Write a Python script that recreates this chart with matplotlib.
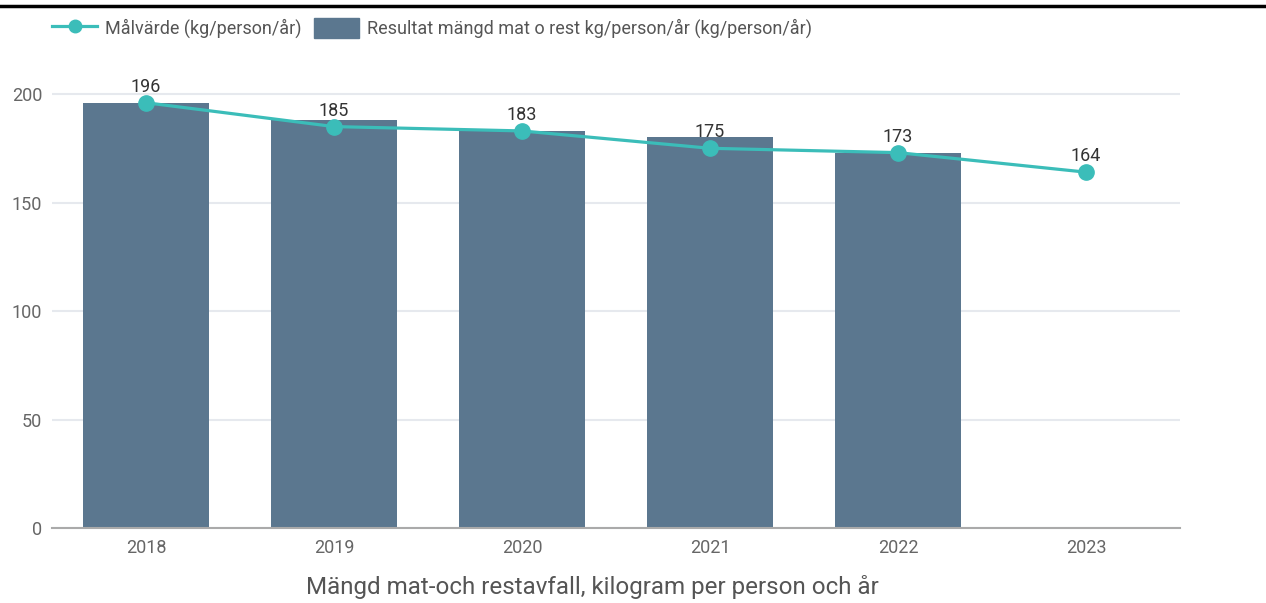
import matplotlib.pyplot as plt
from matplotlib.lines import Line2D
from matplotlib.patches import Rectangle

plt.rcParams['font.family'] = ['Roboto', 'DejaVu Sans']

years = ['2018', '2019', '2020', '2021', '2022', '2023']
resultat = [196, 188, 183, 180, 173]
malvarde = [196, 185, 183, 175, 173, 164]

bar_color = '#5b778f'
line_color = '#3bbdb9'

fig = plt.figure(figsize=(12.66, 6.03), dpi=100)
ax = fig.add_axes([52 / 1266, 0.1244, (1180 - 52) / 1266, 0.7916])

x = list(range(len(years)))
ax.bar(x[:len(resultat)], resultat, width=0.67, color=bar_color, zorder=2)
ax.plot(x, malvarde, color=line_color, lw=2.3, marker='o', markersize=11, zorder=3)
for xi, v in zip(x, malvarde):
    ax.annotate(str(v), (xi, v), xytext=(0, 5), textcoords='offset points',
                ha='center', va='bottom', fontsize=13, color='#333333')

ax.set_xlim(-0.5, len(years) - 0.5)
ax.set_ylim(0, 220)
ax.set_yticks([0, 50, 100, 150, 200])
ax.set_xticks(x)
ax.set_xticklabels(years)
ax.tick_params(axis='both', length=0, labelsize=13, labelcolor='#666666')
ax.tick_params(axis='y', pad=7)
ax.tick_params(axis='x', pad=8)
ax.grid(axis='y', color='#e6e9ee', lw=1.5, zorder=0)
ax.set_axisbelow(True)
for s in ['top', 'right', 'left']:
    ax.spines[s].set_visible(False)
ax.spines['bottom'].set_color('#aaaaaa')
ax.spines['bottom'].set_linewidth(1.5)
ax.spines['bottom'].set_zorder(4)

fig.text(592 / 1266, 1 - 599 / 603, 'Mängd mat-och restavfall, kilogram per person och år',
         ha='center', va='bottom', fontsize=17.4, color='#555555')

# legend
handles = [Line2D([], [], color=line_color, lw=2.3, marker='o', markersize=9),
           Rectangle((0, 0), 1, 1, color=bar_color)]
labels = ['Målvärde (kg/person/år)', 'Resultat mängd mat o rest kg/person/år (kg/person/år)']
fig.legend(handles, labels, loc='upper left', bbox_to_anchor=(52 / 1266, 1 - 18 / 603),
           ncol=2, frameon=False, fontsize=13, labelcolor='#555555',
           borderpad=0, borderaxespad=0,
           handlelength=2.5, handleheight=1.35, handletextpad=0.45, columnspacing=0.67)

fig.add_artist(Line2D([0, 1], [1 - 6 / 603, 1 - 6 / 603], color='black', lw=2.5))

fig.savefig('out.png', dpi=100)
